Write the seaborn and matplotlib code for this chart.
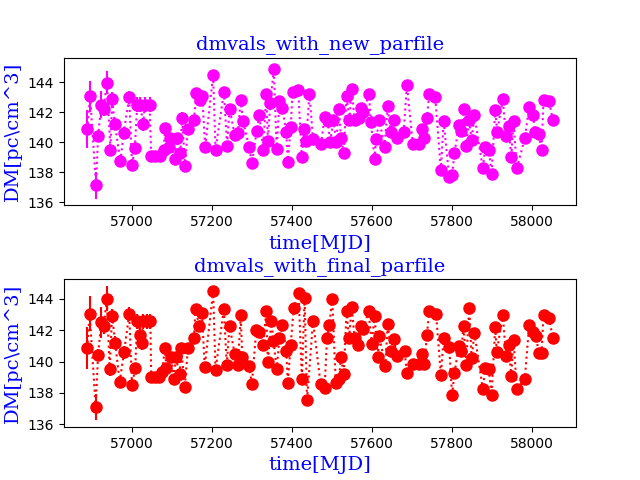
import matplotlib
matplotlib.use("Agg")
import matplotlib.pyplot as plt
import seaborn as sns

# dmvals_with_new_parfile
mjd_new = [56888, 56895, 56910, 56915, 56923, 56929, 56937, 56946, 56950, 56957,
           56971, 56979, 56993, 57000, 57007, 57013, 57021, 57028, 57032, 57044,
           57048, 57058, 57071, 57079, 57083, 57092, 57096, 57107, 57112, 57121,
           57125, 57133, 57139, 57155, 57161, 57169, 57176, 57183, 57203, 57209,
           57230, 57238, 57244, 57257, 57265, 57272, 57278, 57293, 57300, 57312,
           57319, 57328, 57336, 57340, 57346, 57355, 57362, 57369, 57376, 57386,
           57390, 57397, 57402, 57416, 57425, 57431, 57436, 57444, 57453, 57473,
           57482, 57490, 57496, 57504, 57511, 57518, 57523, 57530, 57537, 57544,
           57550, 57557, 57568, 57574, 57579, 57593, 57598, 57607, 57611, 57619,
           57632, 57640, 57647, 57655, 57664, 57680, 57688, 57703, 57718, 57726,
           57732, 57738, 57744, 57759, 57773, 57780, 57794, 57801, 57807, 57818,
           57824, 57830, 57836, 57844, 57850, 57857, 57878, 57884, 57893, 57900,
           57909, 57914, 57928, 57936, 57943, 57949, 57955, 57963, 57983, 57994,
           58003, 58009, 58018, 58025, 58030, 58044, 58053]
dm_new = [140.87, 143.07, 137.13, 140.4, 142.5, 142.25, 143.98, 139.5, 142.9, 141.2,
          138.75, 140.6, 143.0, 138.5, 139.6, 142.5, 142.5, 141.2, 142.5, 142.5,
          139.1, 139.1, 139.1, 139.5, 140.95, 139.7, 140.3, 138.9, 140.25, 139.25,
          141.65, 138.4, 140.87, 141.5, 143.3, 142.8, 143.1, 139.65, 144.47, 139.5,
          143.35, 139.75, 142.25, 140.5, 140.6, 142.8, 141.4, 139.7, 138.6, 140.75,
          141.85, 139.5, 143.2, 140.1, 142.6, 144.9, 139.53, 142.75, 142.3, 140.7,
          138.65, 141.0, 143.35, 143.5, 139.0, 140.85, 140.1, 143.25, 140.2, 139.85,
          141.7, 141.4, 140.0, 141.5, 140.0, 142.25, 140.3, 139.25, 143.07, 141.5,
          143.53, 141.47, 141.6, 142.3, 142.0, 143.2, 141.35, 138.9, 140.2, 141.5,
          139.7, 142.4, 140.7, 141.47, 140.3, 140.7, 143.8, 139.87, 139.87, 140.85,
          140.3, 141.65, 143.2, 143.0, 138.13, 141.4, 137.65, 137.8, 139.25, 141.13,
          140.73, 142.25, 139.73, 141.47, 140.13, 141.8, 138.25, 139.65, 139.5, 137.9,
          142.18, 140.7, 142.9, 140.4, 141.07, 139.0, 141.4, 138.25, 140.25, 142.35,
          141.85, 140.7, 140.53, 139.5, 142.85, 142.75, 141.5]
err_new = [1.27, 1.05, 0.9, 0.35, 0.9, 0.5, 0.75, 0.4, 0.45, 0.4,
           0.35, 0.4, 0.45, 0.4, 0.35, 0.5, 0.5, 0.45, 0.5, 0.5,
           0.3, 0.3, 0.3, 0.3, 0.35, 0.3, 0.3, 0.3, 0.3, 0.3,
           0.35, 0.3, 0.3, 0.3, 0.3, 0.3, 0.3, 0.3, 0.3, 0.3,
           0.3, 0.3, 0.3, 0.3, 0.3, 0.3, 0.3, 0.3, 0.3, 0.3,
           0.3, 0.3, 0.3, 0.3, 0.3, 0.3, 0.3, 0.3, 0.3, 0.3,
           0.3, 0.3, 0.3, 0.3, 0.3, 0.3, 0.3, 0.3, 0.3, 0.3,
           0.3, 0.3, 0.3, 0.3, 0.3, 0.3, 0.3, 0.3, 0.3, 0.3,
           0.3, 0.3, 0.3, 0.3, 0.3, 0.3, 0.3, 0.3, 0.3, 0.3,
           0.3, 0.3, 0.3, 0.3, 0.3, 0.3, 0.3, 0.3, 0.3, 0.3,
           0.3, 0.3, 0.3, 0.3, 0.3, 0.3, 0.3, 0.3, 0.3, 0.3,
           0.3, 0.3, 0.3, 0.3, 0.3, 0.3, 0.3, 0.3, 0.3, 0.3,
           0.3, 0.3, 0.3, 0.3, 0.3, 0.3, 0.3, 0.3, 0.3, 0.3,
           0.3, 0.3, 0.3, 0.3, 0.3, 0.3, 0.3]

# dmvals_with_final_parfile
mjd_final = [56888, 56894, 56909, 56915, 56923, 56929, 56937, 56944, 56950, 56958,
             56969, 56980, 56993, 57000, 57008, 57013, 57019, 57024, 57028, 57038,
             57046, 57048, 57057, 57068, 57076, 57082, 57086, 57097, 57105, 57109,
             57119, 57123, 57132, 57140, 57155, 57159, 57168, 57175, 57182, 57203,
             57209, 57230, 57237, 57244, 57257, 57265, 57272, 57276, 57293, 57300,
             57311, 57319, 57328, 57336, 57340, 57349, 57354, 57362, 57369, 57376,
             57386, 57390, 57397, 57405, 57417, 57425, 57432, 57438, 57453, 57472,
             57482, 57488, 57494, 57501, 57510, 57518, 57523, 57530, 57537, 57543,
             57550, 57557, 57566, 57574, 57579, 57592, 57600, 57607, 57615, 57619,
             57634, 57640, 57648, 57655, 57663, 57682, 57688, 57703, 57718, 57727,
             57732, 57738, 57744, 57761, 57773, 57780, 57794, 57801, 57807, 57818,
             57824, 57830, 57836, 57844, 57850, 57857, 57878, 57884, 57893, 57900,
             57909, 57913, 57928, 57936, 57943, 57949, 57955, 57963, 57983, 57994,
             58003, 58011, 58018, 58025, 58030, 58044, 58053]
dm_final = [140.86, 143.04, 137.1, 140.43, 142.5, 142.24, 144.0, 139.5, 142.9, 141.2,
            138.7, 140.58, 143.04, 138.5, 139.58, 142.55, 141.7, 141.2, 142.55, 142.55,
            142.55, 139.04, 139.04, 139.04, 139.36, 140.86, 139.62, 140.3, 138.87, 140.3,
            139.2, 140.86, 138.38, 140.86, 141.5, 143.36, 142.29, 143.1, 139.68, 144.47,
            139.47, 143.36, 139.77, 142.29, 140.47, 139.77, 142.93, 140.26, 139.72, 138.55,
            142.03, 141.9, 141.05, 143.19, 140.0, 142.6, 141.33, 139.5, 141.48, 142.33,
            140.69, 138.65, 141.05, 143.42, 144.36, 138.9, 144.04, 137.54, 142.6, 138.55,
            138.3, 141.48, 142.33, 144.0, 138.65, 138.9, 140.32, 139.2, 143.19, 141.48,
            143.46, 141.48, 141.05, 142.29, 142.08, 143.19, 141.12, 142.9, 140.26, 141.6,
            139.72, 142.4, 140.69, 141.44, 140.37, 140.69, 139.26, 139.83, 139.83, 140.47,
            139.83, 141.7, 143.19, 143.04, 139.15, 141.5, 140.9, 137.85, 139.26, 141.0,
            140.69, 142.29, 139.77, 143.42, 140.2, 141.82, 138.23, 139.62, 139.5, 137.87,
            142.18, 140.62, 142.97, 140.37, 141.05, 139.08, 141.4, 138.23, 138.87, 142.33,
            141.9, 141.65, 140.54, 140.54, 142.93, 142.78, 141.5]
err_final = [1.33, 1.1, 0.85, 0.35, 1.0, 0.5, 0.8, 0.4, 0.45, 0.4,
             0.35, 0.4, 0.45, 0.4, 0.35, 0.5, 0.5, 0.45, 0.5, 0.5,
             0.5, 0.3, 0.3, 0.3, 0.3, 0.35, 0.3, 0.3, 0.3, 0.3,
             0.3, 0.35, 0.3, 0.3, 0.3, 0.3, 0.3, 0.3, 0.3, 0.3,
             0.3, 0.3, 0.3, 0.3, 0.3, 0.3, 0.3, 0.3, 0.3, 0.3,
             0.3, 0.3, 0.3, 0.3, 0.3, 0.3, 0.3, 0.3, 0.3, 0.3,
             0.3, 0.3, 0.3, 0.3, 0.3, 0.3, 0.3, 0.3, 0.3, 0.3,
             0.3, 0.3, 0.3, 0.3, 0.3, 0.3, 0.3, 0.3, 0.3, 0.3,
             0.3, 0.3, 0.3, 0.3, 0.3, 0.3, 0.3, 0.3, 0.3, 0.3,
             0.3, 0.3, 0.3, 0.3, 0.3, 0.3, 0.3, 0.3, 0.3, 0.3,
             0.3, 0.3, 0.3, 0.3, 0.3, 0.3, 0.3, 0.3, 0.3, 0.3,
             0.3, 0.3, 0.3, 0.3, 0.3, 0.3, 0.3, 0.3, 0.3, 0.3,
             0.3, 0.3, 0.3, 0.3, 0.3, 0.3, 0.3, 0.3, 0.3, 0.3,
             0.3, 0.3, 0.3, 0.3, 0.3, 0.3, 0.3]

panels = [
    ("dmvals_with_new_parfile", mjd_new, dm_new, err_new, "magenta"),
    ("dmvals_with_final_parfile", mjd_final, dm_final, err_final, "red"),
]

label_font = {"family": "serif", "color": "blue", "size": 14}

fig, axes = plt.subplots(2, 1, figsize=(6.4, 4.8), dpi=100)
fig.subplots_adjust(left=0.1, right=0.9, top=0.88, bottom=0.11, hspace=0.5)

for ax, (title, mjd, dm, err, color) in zip(axes, panels):
    ax.errorbar(mjd, dm, yerr=err, fmt="none", ecolor=color, elinewidth=1.5)
    sns.lineplot(x=mjd, y=dm, ax=ax, color=color, linestyle=":", linewidth=1.5,
                 marker="o", markersize=8, markeredgecolor=color,
                 markeredgewidth=1, estimator=None, sort=False)
    ax.set_title(title, fontdict=label_font)
    ax.set_xlabel("time[MJD]", fontdict=label_font)
    ax.set_ylabel("DM[pc\\cm^3]", fontdict=label_font)

fig.savefig("out.png", dpi=100)
